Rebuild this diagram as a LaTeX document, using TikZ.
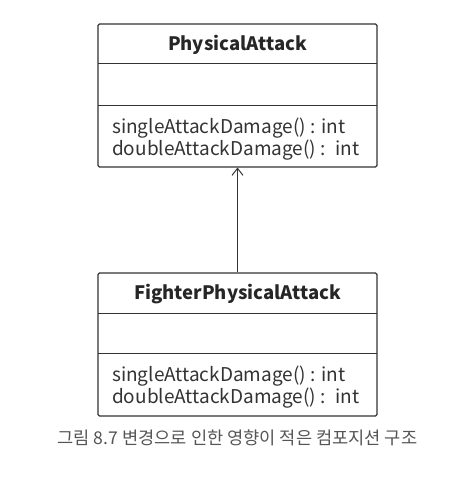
\documentclass[tikz,border=0pt]{standalone}
\usepackage{fontspec}
\setmainfont{Noto Sans CJK KR}
\usetikzlibrary{arrows.meta}
\definecolor{umlline}{HTML}{333333}
\definecolor{captext}{HTML}{555555}
\tikzset{
	classbox/.style={draw=umlline, line width=1.1pt, rounded corners=1.5pt, minimum width=279bp, minimum height=143bp, inner sep=0pt},
	classname/.style={font=\fontsize{18.5bp}{20bp}\selectfont\bfseries, text=black!85},
	methods/.style={font=\fontsize{19bp}{20bp}\selectfont, text=black!80, align=left, anchor=west, inner sep=0pt},
	divider/.style={draw=umlline, line width=1pt}
}
\begin{document}
\begin{tikzpicture}[x=1bp, y=-1bp]
		\useasboundingbox (0,0) rectangle (464,482);
		% upper class
		\node[classbox] (pa) at (237.5,95.5) {};
		\node[classname] (paname) at (237.5,45) {PhysicalAttack};
		\draw[divider] (98,64) -- (377,64);
		\draw[divider] (98,105) -- (377,105);
		\node[methods] (paops) at (112,139) {singleAttackDamage() : int\\doubleAttackDamage() :~ int};
		% lower class
		\node[classbox] (fpa) at (237.5,344.5) {};
		\node[classname] (fpaname) at (237.5,294) {FighterPhysicalAttack};
		\draw[divider] (98,313) -- (377,313);
		\draw[divider] (98,353) -- (377,353);
		\node[methods] (fpaops) at (112,387) {singleAttackDamage() : int\\doubleAttackDamage() :~ int};
		% generalisation
		\draw[draw=umlline, line width=1pt, -{Straight Barb[length=7bp,width=11bp]}] (fpa.north) -- (pa.south);
		% caption
		\node[font=\fontsize{17.6bp}{19bp}\selectfont, text=captext] (cap) at (237.5,438) {그림 8.7 변경으로 인한 영향이 적은 컴포지션 구조};
	\end{tikzpicture}
\end{document}
